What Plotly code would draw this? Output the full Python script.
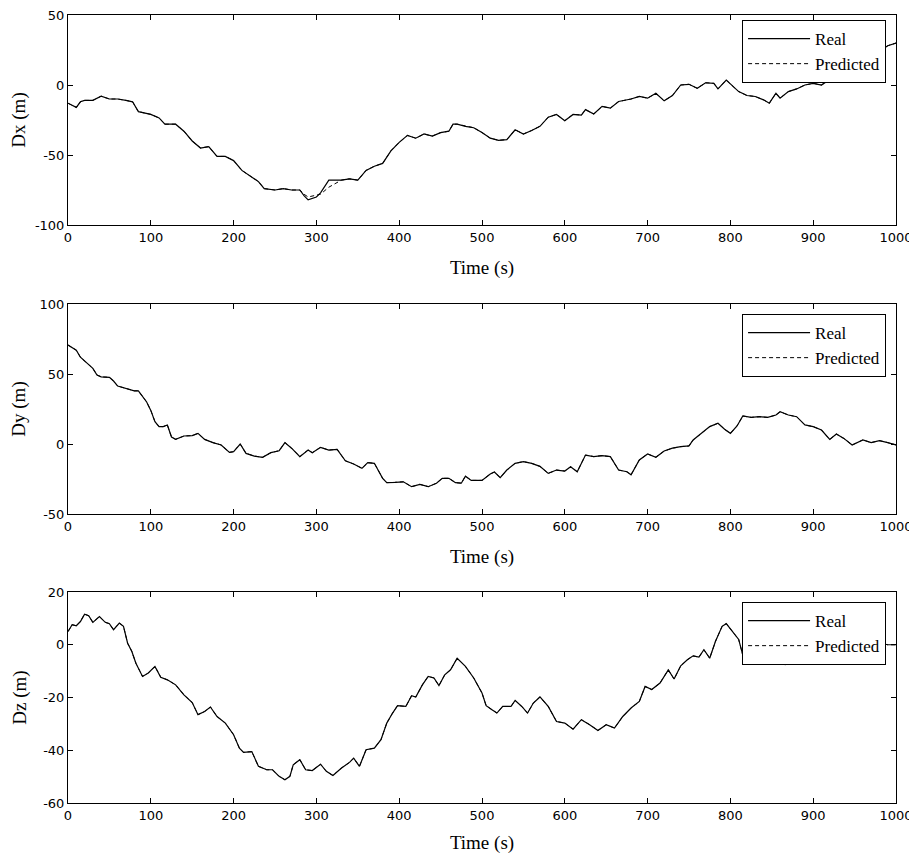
import plotly.graph_objects as go

# ---------------- data ----------------
dx_t = [0,10,15,20,30,40,50,60,70,78,85,100,110,117,130,140,150,160,170,180,
        190,200,210,220,230,237,250,260,270,280,285,290,300,305,315,330,340,350,360,370,
        380,390,400,410,420,430,440,450,460,465,470,480,490,500,510,520,530,540,550,560,
        570,580,590,600,610,620,625,635,645,655,665,680,690,700,710,720,730,740,750,760,
        770,780,785,795,810,820,830,840,847,855,860,870,880,890,900,910,920,930,940,950,
        960,970,980,990,1000]
dx_real = [-13,-16,-12,-11,-11,-8,-10,-10,-11,-12,-19,-21,-23.5,-28,-28,-33,-40,-45,-44,-51,
           -51,-54,-61,-65,-69,-74,-75,-74,-75,-75,-79,-82,-80,-77,-68,-68,-67,-68,-61,-58,
           -56,-47,-41,-36,-38,-35,-36.5,-34,-33,-28,-28,-29.5,-30.5,-34,-38,-39.5,-39,-32,-35,-32.5,
           -29.5,-23,-21,-25.5,-21,-21.5,-17.6,-20.7,-15.3,-16.5,-11.8,-10,-8.2,-9.4,-5.9,-11.3,-7.5,0,0.5,-2.4,
           1.6,1.2,-2.8,3.5,-4.7,-7.5,-8.2,-10.6,-13,-5.9,-9.4,-4.7,-2.8,0,1.2,0,4,8,12,15,
           17,20,24,28,30]
# predicted follows the real curve except a small lag around t = 285..315 s
dx_pred_segment = [-78,-80,-79,-78,-73]
dx_pred = dx_real[:30] + dx_pred_segment + dx_real[35:]

dy_t = [0,5,10,15,20,25,30,35,40,50,55,60,70,80,85,90,95,100,105,110,
        115,120,125,130,140,150,157,165,175,185,195,200,208,215,225,235,245,255,262,270,
        280,290,295,305,315,325,335,345,355,362,370,380,385,395,405,415,425,435,445,452,
        460,468,475,480,487,500,510,515,522,530,540,550,560,570,580,590,600,607,615,625,
        635,645,655,665,675,680,690,700,710,720,730,740,750,755,765,775,785,793,800,808,
        815,825,835,845,855,860,870,880,890,900,910,920,928,937,947,960,970,980,990,1000]
dy_real = [70.7,69,67,62,59.5,56.4,54,49.3,48,47.6,45,41.4,39.8,38,38,34,30,24,16,12.4,
           12.4,13.6,5,3.3,5.7,6,7.6,3.3,1,-0.7,-6,-5.5,0,-6.7,-8.6,-9.5,-6.2,-4.8,1,-3,
           -9,-4.3,-6.2,-2.4,-4.3,-3.8,-12,-14.3,-17.4,-13.3,-13.8,-24.5,-27.6,-27.4,-27,-30.5,-28.8,-30.5,-28,-24.5,
           -24.5,-27.6,-28,-23,-26,-26,-21.4,-20,-24,-18.6,-13.8,-12.6,-13.8,-16,-21,-18.6,-19.3,-16.2,-19.8,-7.9,
           -9,-8.3,-9,-18.6,-19.8,-22,-11.4,-7.1,-9.5,-5,-3,-1.9,-1.4,2.9,7.6,12.4,14.8,10.5,7.6,12.9,
           20,19,19.5,19,20.7,23,20.7,19.5,13.6,12.4,10,3.3,7.1,4,-0.7,2.9,1,2.4,1,-0.7]
dy_pred = list(dy_real)

dz_t = [0,5,10,15,20,25,30,38,45,50,55,62,67,72,77,82,90,97,105,112,
        120,130,140,150,157,165,172,180,190,200,207,212,222,230,240,247,255,262,268,272,
        280,287,295,305,312,320,330,340,345,352,360,370,378,385,392,398,408,415,420,428,
        435,442,448,455,462,470,480,490,500,505,512,518,525,535,540,548,555,562,570,580,
        590,600,610,620,630,640,650,660,670,680,690,697,705,715,725,732,740,748,755,762,
        768,775,782,790,795,803,810,818,825,835,845,855,866,875,885,900,915,930,945,960,
        975,990,1000]
dz_real = [5,7.6,7.2,8.8,11.6,11,8.5,10.7,8.5,8,5.7,8.2,7,0.6,-2.5,-7,-12,-10.7,-8.2,-12.3,
           -13.3,-15.2,-19,-21.9,-26.5,-25.3,-23.6,-27.2,-29.7,-34.1,-39.2,-40.8,-40.5,-46.1,-47.4,-47.4,-49.9,-51.2,-49.9,-45.5,
           -43.6,-47.4,-47.7,-45.3,-48,-49.6,-46.8,-44.6,-43,-46.1,-39.8,-39.2,-36,-29.7,-25.9,-23.1,-23.4,-19.3,-19.8,-15.2,
           -12,-12.6,-15.5,-11.4,-9.5,-5.1,-8.2,-12.6,-18.3,-23.1,-24.6,-25.9,-23.4,-23.4,-21.1,-23.4,-25.9,-22.1,-19.8,-23.4,
           -29.1,-29.7,-32,-28.4,-30.3,-32.5,-30.3,-31.6,-27.2,-24,-21.5,-15.8,-17,-14.5,-9.5,-13,-8,-5.7,-4.2,-4.7,
           -1.9,-5.1,1.3,7,8,5,2,-7.5,-2,-3,-1,-3,-7.5,-3,-1,0,2,1,3,2,
           1,0,0]
dz_pred = list(dz_real)

assert len(dx_t) == len(dx_real) == len(dx_pred)
assert len(dy_t) == len(dy_real)
assert len(dz_t) == len(dz_real)

x_ticks = [0,100,200,300,400,500,600,700,800,900,1000]
dx_ticks = [-100, -50, 0, 50]
dy_ticks = [-50, 0, 50, 100]
dz_ticks = [-60, -40, -20, 0, 20]
dx_ticktext = ["-100", "-50", "0", "50"]
dy_ticktext = ["-50", "0", "50", "100"]
dz_ticktext = ["-60", "-40", "-20", "0", "20"]

panels = [
    ("Dx (m)", dx_t, dx_real, dx_pred, [-100, 50], dx_ticks, dx_ticktext),
    ("Dy (m)", dy_t, dy_real, dy_pred, [-50, 100], dy_ticks, dy_ticktext),
    ("Dz (m)", dz_t, dz_real, dz_pred, [-60, 20], dz_ticks, dz_ticktext),
]

# ---------------- layout geometry ----------------
# The page body has an 8px margin, so the figure is sized to fit the window.
PAGE_OFF = 8
W, H = 917 - PAGE_OFF, 862 - 2 * PAGE_OFF
M_T, M_B, M_L, M_R = 13 - PAGE_OFF, 51, 68 - PAGE_OFF, 21
PH = H - M_T - M_B
panel_px = [(15, 225), (304, 514), (592, 803)]   # absolute window pixels
legend_top_px = [20, 314, 602]

def py(p):
    return 1 - (p - 13) / PH

serif = "Liberation Serif, Times New Roman, serif"
sans = "DejaVu Sans, Arial, sans-serif"

fig = go.Figure()
layout = dict(
    width=W, height=H,
    margin=dict(t=M_T, b=M_B, l=M_L, r=M_R, autoexpand=False),
    paper_bgcolor="white", plot_bgcolor="white",
    showlegend=True,
)

for i, (ylab, t, real, pred, yr, yt, ytt) in enumerate(panels):
    n = "" if i == 0 else str(i + 1)
    leg = "legend" if i == 0 else f"legend{i+1}"
    fig.add_trace(go.Scatter(x=t, y=real, mode="lines", name="Real",
                             line=dict(color="black", width=1.2),
                             xaxis=f"x{n}", yaxis=f"y{n}", legend=leg))
    fig.add_trace(go.Scatter(x=t, y=pred, mode="lines", name="Predicted",
                             line=dict(color="black", width=1, dash="4px,3px"),
                             xaxis=f"x{n}", yaxis=f"y{n}", legend=leg))
    top, bot = panel_px[i]
    common = dict(showline=True, linecolor="black", linewidth=1, mirror="ticks",
                  ticks="inside", ticklen=5, tickcolor="black", showgrid=False,
                  zeroline=False, automargin=False, ticklabeloverflow="allow",
                  tickfont=dict(family=sans, size=13, color="black"))
    layout[f"xaxis{n}"] = dict(common, domain=[0, 1], anchor=f"y{n}", range=[0, 1000],
                               tickvals=x_ticks,
                               title=dict(text="Time (s)", standoff=17,
                                          font=dict(family=serif, size=19, color="black")))
    layout[f"yaxis{n}"] = dict(common, domain=[py(bot), py(top)], anchor=f"x{n}",
                               range=yr, tickvals=yt, ticktext=ytt,
                               title=dict(text=ylab, standoff=11,
                                          font=dict(family=serif, size=19, color="black")))
    layout[leg] = dict(x=0.988, xanchor="right", y=py(legend_top_px[i]), yanchor="top",
                       bgcolor="white", bordercolor="black", borderwidth=1,
                       font=dict(family=serif, size=17, color="black"),
                       itemwidth=62, tracegroupgap=0)

fig.update_layout(**layout)
fig.write_html("out.html")
